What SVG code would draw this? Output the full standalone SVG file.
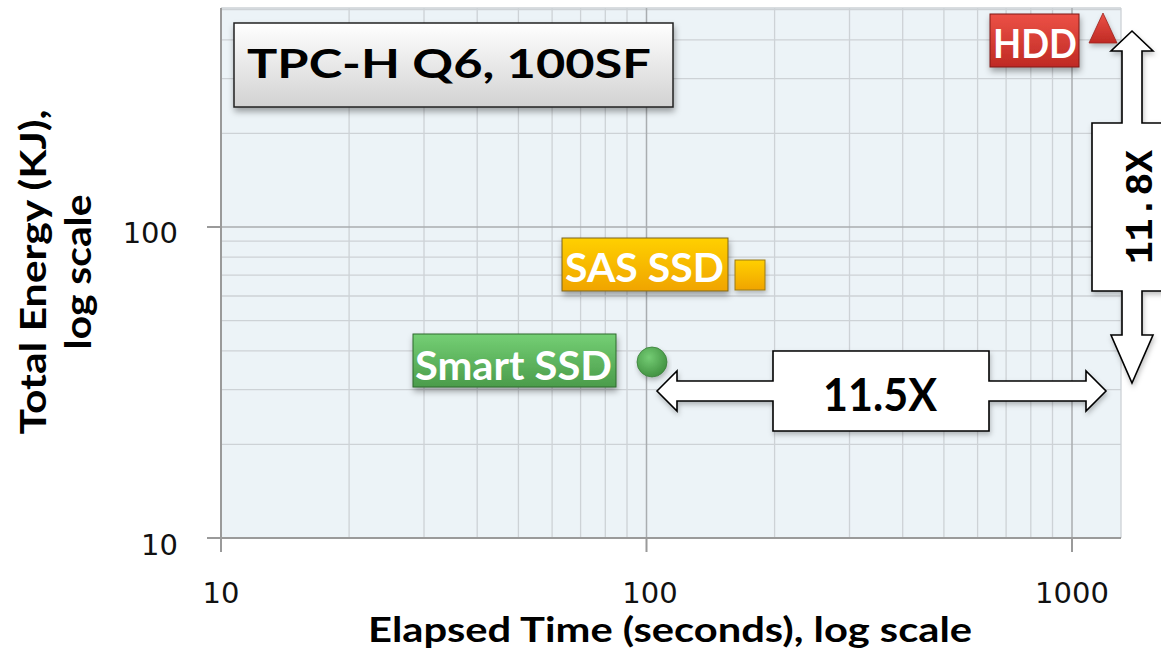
<svg xmlns="http://www.w3.org/2000/svg" width="1161" height="650" viewBox="0 0 1161 650">
  <style>
    .grid { stroke: #cdd2d6; stroke-width: 1.3; fill: none; }
    .major { stroke: #a9adb0; stroke-width: 1.5; fill: none; }
    .axis { stroke: #9a9a9a; stroke-width: 2; fill: none; }
    .tick { font-family: "DejaVu Sans", sans-serif; font-size: 29px; fill: #111; }
    .title { font-family: Lato, "Liberation Sans", sans-serif; font-weight: bold; fill: #000; }
    .lbl { font-family: Lato, "Liberation Sans", sans-serif; font-weight: bold; font-size: 40px; fill: #fff; }
    .callout { fill: #fff; stroke: #000; stroke-width: 1.6; stroke-linejoin: miter; }
  </style>
  <defs>
    <filter id="shadow" x="-10%" y="-20%" width="125%" height="150%">
      <feDropShadow dx="1" dy="4" stdDeviation="3" flood-color="#000" flood-opacity="0.35"/>
    </filter>
    <filter id="softShadow" x="-10%" y="-20%" width="125%" height="150%">
      <feDropShadow dx="1" dy="3" stdDeviation="2.5" flood-color="#000" flood-opacity="0.25"/>
    </filter>
    <linearGradient id="gTitle" x1="0" y1="0" x2="0" y2="1">
      <stop offset="0" stop-color="#ffffff"/>
      <stop offset="1" stop-color="#d2d2d2"/>
    </linearGradient>
    <linearGradient id="gRed" x1="0" y1="0" x2="0" y2="1">
      <stop offset="0" stop-color="#ec5146"/>
      <stop offset="1" stop-color="#bf2a24"/>
    </linearGradient>
    <linearGradient id="gGold" x1="0" y1="0" x2="0" y2="1">
      <stop offset="0" stop-color="#ffd000"/>
      <stop offset="1" stop-color="#f0a400"/>
    </linearGradient>
    <linearGradient id="gGreen" x1="0" y1="0" x2="0" y2="1">
      <stop offset="0" stop-color="#74cf74"/>
      <stop offset="1" stop-color="#4b9c4b"/>
    </linearGradient>
    <radialGradient id="gDot" cx="0.4" cy="0.35" r="0.7">
      <stop offset="0" stop-color="#74cc74"/>
      <stop offset="1" stop-color="#3f8f3f"/>
    </radialGradient>
  </defs>

  <!-- plot area -->
  <rect x="221" y="8" width="900" height="530" fill="#ecf3f7"/>

  <!-- minor grid: vertical -->
  <g class="grid">
    <path d="M349.1,8V538M424,8V538M477.2,8V538M518.4,8V538M552.1,8V538M580.6,8V538M605.3,8V538M627,8V538"/>
    <path d="M774.6,8V538M849.5,8V538M902.7,8V538M943.9,8V538M977.6,8V538M1006.1,8V538M1030.8,8V538M1052.5,8V538"/>
    <!-- minor grid: horizontal -->
    <path d="M221,444.4H1121M221,389.6H1121M221,350.8H1121M221,320.6H1121M221,296H1121M221,275.2H1121M221,257.1H1121M221,241.2H1121"/>
    <path d="M221,133.4H1121M221,78.6H1121M221,39.8H1121M221,9.6H1121"/>
    <path d="M221,8H1121M1121,8V538"/>
  </g>
  <g class="major">
    <path d="M646.5,8V538M1072,8V538M221,227H1121"/>
  </g>

  <!-- axes and ticks -->
  <g class="axis">
    <path d="M221,8V552M207,538H1121"/>
    <path d="M207,227H221M646.5,538V552M1072,538V552"/>
  </g>

  <!-- tick labels -->
  <g class="tick">
    <text x="178" y="243" text-anchor="end">100</text>
    <text x="178" y="555" text-anchor="end">10</text>
    <text x="221" y="603" text-anchor="middle" font-size="29">10</text>
    <text x="650" y="603" text-anchor="middle" font-size="29">100</text>
    <text x="1072" y="603" text-anchor="middle" font-size="29">1000</text>
  </g>

  <!-- axis titles -->
  <g class="title" font-size="37">
    <text transform="translate(46,272) rotate(-90)" text-anchor="middle" textLength="325" lengthAdjust="spacingAndGlyphs">Total Energy (KJ),</text>
    <text transform="translate(91,272) rotate(-90)" text-anchor="middle" textLength="155" lengthAdjust="spacingAndGlyphs">log scale</text>
    <text x="670" y="642" text-anchor="middle" font-size="35" textLength="604" lengthAdjust="spacingAndGlyphs">Elapsed Time (seconds), log scale</text>
  </g>

  <!-- chart title box -->
  <g id="chart-title">
    <rect x="234" y="23" width="439" height="84" fill="url(#gTitle)" stroke="#222" stroke-width="1.5" filter="url(#shadow)"/>
    <text class="title" x="449" y="78" text-anchor="middle" font-size="41" textLength="404" lengthAdjust="spacingAndGlyphs">TPC-H Q6, 100SF</text>
  </g>

  <!-- data points -->
  <g id="hdd">
    <rect x="990" y="14" width="89" height="53" fill="url(#gRed)" stroke="#7e1b17" stroke-width="1" filter="url(#shadow)"/>
    <text class="lbl" x="1035" y="58" text-anchor="middle" textLength="84" lengthAdjust="spacingAndGlyphs">HDD</text>
    <path d="M1103,13L1117,43H1089Z" fill="url(#gRed)" stroke="#9a2520" stroke-width="0.8" filter="url(#softShadow)"/>
  </g>

  <g id="sas-ssd">
    <rect x="562" y="238" width="166" height="53" fill="url(#gGold)" stroke="#7a6420" stroke-width="1" filter="url(#shadow)"/>
    <text class="lbl" x="644.5" y="282" text-anchor="middle" textLength="159" lengthAdjust="spacingAndGlyphs">SAS SSD</text>
    <rect x="735" y="260" width="30" height="30" fill="url(#gGold)" stroke="#9a7a10" stroke-width="1" filter="url(#softShadow)"/>
  </g>

  <g id="smart-ssd">
    <rect x="413" y="334" width="203" height="53" fill="url(#gGreen)" stroke="#2f6a2f" stroke-width="1" filter="url(#shadow)"/>
    <text class="lbl" x="513.5" y="380" text-anchor="middle" textLength="197" lengthAdjust="spacingAndGlyphs">Smart SSD</text>
    <circle cx="652" cy="362" r="15" fill="url(#gDot)" stroke="#3a7f3a" stroke-width="0.8" filter="url(#softShadow)"/>
  </g>

  <!-- ratio callouts -->
  <g id="connectors">
    <g id="time-ratio">
      <path class="callout" filter="url(#softShadow)" d="M657,391L677,371V381H773V351H989V381H1086V371L1106,391L1086,411V401H989V431H773V401H677V411Z"/>
      <text class="title" x="880" y="411" text-anchor="middle" font-size="46" textLength="114" lengthAdjust="spacingAndGlyphs">11.5X</text>
    </g>
    <g id="energy-ratio">
      <path class="callout" filter="url(#softShadow)" d="M1132,31L1153,51H1142V123H1172V291H1142V335H1153L1132,383L1111,335H1122V291H1092V123H1122V51H1111Z"/>
      <text transform="translate(1152,207) rotate(-90)" text-anchor="middle" font-family="'Liberation Mono', monospace" font-weight="bold" font-size="38" fill="#000">11.8X</text>
    </g>
  </g>
</svg>
